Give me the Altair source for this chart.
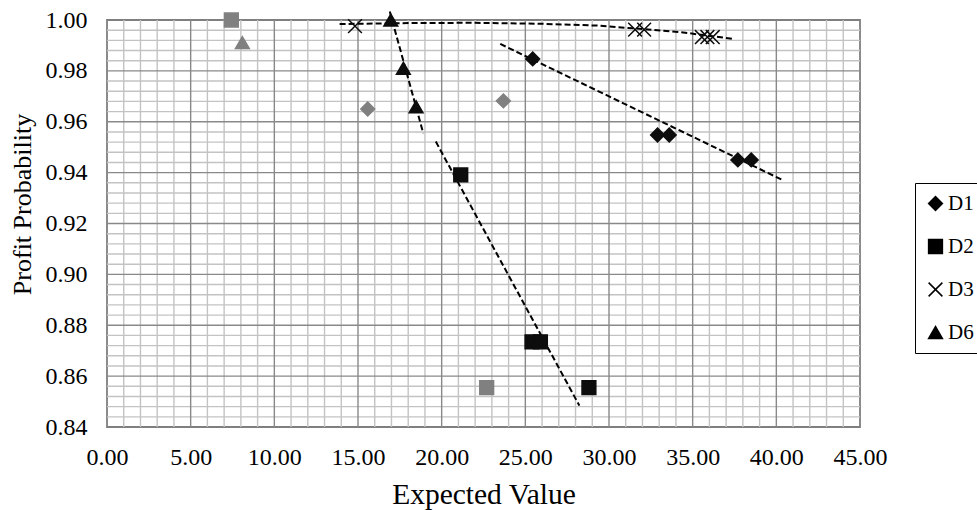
import altair as alt
import pandas as pd

# ---------------- data ----------------
series_names = ["D1", "D2", "D3", "D6"]

d1_x = [25.44, 32.9, 33.6, 37.7, 38.5]
d1_y = [0.9847, 0.9548, 0.9548, 0.945, 0.945]
d1_gray_x = [15.58, 23.69]
d1_gray_y = [0.965, 0.9682]

d2_x = [21.14, 25.4, 25.9, 28.8]
d2_y = [0.9391, 0.8735, 0.8735, 0.8555]
d2_gray_x = [7.43, 22.69]
d2_gray_y = [1.0, 0.8555]

d3_x = [14.82, 31.56, 32.1, 35.55, 35.88, 36.2]
d3_y = [0.9976, 0.9962, 0.9962, 0.9933, 0.9933, 0.9933]

d6_x = [16.96, 17.71, 18.47]
d6_y = [1.0, 0.981, 0.9659]
d6_gray_x = [8.09]
d6_gray_y = [0.9911]

# dashed trendlines
t1_x = [23.5, 40.4]
t1_y = [0.9906, 0.937]
t2_x = [19.65, 28.23]
t2_y = [0.9522, 0.8484]
t3_x = [13.9, 18.0, 22.0, 26.0, 29.3, 31.5, 34.2, 37.5]
t3_y = [0.9984, 0.9988, 0.9989, 0.9985, 0.9978, 0.9967, 0.9953, 0.9925]
t6_x = [16.9, 18.9]
t6_y = [1.0033, 0.9555]

x_ticks = [0, 5, 10, 15, 20, 25, 30, 35, 40, 45]
y_ticks = [0.84, 0.86, 0.88, 0.90, 0.92, 0.94, 0.96, 0.98, 1.00]

# gridline positions
x_major = x_ticks[1:-1]
x_minor = [i for i in range(1, 45) if i % 5 != 0]
y_major = y_ticks[1:-1]
y_minor = [round(0.84 + 0.004 * k, 3) for k in range(1, 40) if k % 5 != 0]

# ---------------- tables ----------------
rows = []
def add(name, tone, xs, ys):
    for a, b in zip(xs, ys):
        rows.append({"x": a, "y": b, "series": name, "tone": tone})

add("D1", "gray", d1_gray_x, d1_gray_y)
add("D2", "gray", d2_gray_x, d2_gray_y)
add("D6", "gray", d6_gray_x, d6_gray_y)
add("D1", "dark", d1_x, d1_y)
add("D2", "dark", d2_x, d2_y)
add("D3", "dark", d3_x, d3_y)
add("D6", "dark", d6_x, d6_y)
pts = pd.DataFrame(rows)

lrows = []
for name, xs, ys in [("D1", t1_x, t1_y), ("D2", t2_x, t2_y), ("D3", t3_x, t3_y), ("D6", t6_x, t6_y)]:
    for i, (a, b) in enumerate(zip(xs, ys)):
        lrows.append({"x": a, "y": b, "series": name, "i": i})
lines = pd.DataFrame(lrows)

FONT = "Liberation Serif"
xscale = alt.Scale(domain=[0, 45], nice=False, zero=False)
yscale = alt.Scale(domain=[0.84, 1.0], nice=False, zero=False)

xaxis = alt.Axis(values=x_ticks, format=".2f", title="Expected Value",
                 labelFontSize=24, labelPadding=18, tickSize=0,
                 labelFlush=False, labelOverlap=False,
                 titleFontSize=29.5, titleBaseline="alphabetic", titleY=76)
yaxis = alt.Axis(values=y_ticks, format=".2f", title="Profit Probability",
                 labelFontSize=24, labelPadding=20, tickSize=0,
                 labelFlush=False, labelOverlap=False,
                 titleFontSize=26, titleBaseline="alphabetic", titleAngle=-90,
                 titleX=-77, titleY=184, titleAlign="center")

def vrules(vals, color):
    return alt.Chart(pd.DataFrame({"v": vals})).mark_rule(color=color, strokeWidth=1.4).encode(
        x=alt.X("v:Q", scale=xscale, axis=xaxis))

def hrules(vals, color):
    return alt.Chart(pd.DataFrame({"v": vals})).mark_rule(color=color, strokeWidth=1.4).encode(
        y=alt.Y("v:Q", scale=yscale, axis=yaxis))

MINOR = "#c3c3c3"
MAJOR = "#898989"

trend = alt.Chart(lines).mark_line(color="black", strokeWidth=2, strokeDash=[6, 3]).encode(
    x=alt.X("x:Q", scale=xscale, axis=xaxis),
    y=alt.Y("y:Q", scale=yscale, axis=yaxis),
    detail="series:N",
    order="i:Q",
)

points = alt.Chart(pts).mark_point(filled=True, color="black", strokeWidth=1.5, size=190, opacity=1).encode(
    x=alt.X("x:Q", scale=xscale, axis=xaxis),
    y=alt.Y("y:Q", scale=yscale, axis=yaxis),
    shape=alt.Shape("series:N",
                    scale=alt.Scale(domain=series_names,
                                    range=["diamond", "square", "M-1,-1L1,1M1,-1L-1,1", "triangle-up"]),
                    legend=alt.Legend(title=None,
                                      orient="none", legendX=808, legendY=163,
                                      strokeColor="black", fillColor="white", padding=10,
                                      rowPadding=21, labelFont=FONT, labelFontSize=21,
                                      labelColor="black", labelOffset=2, symbolSize=190,
                                      symbolFillColor="black", symbolStrokeColor="black",
                                      symbolStrokeWidth=1.5)),
    fill=alt.Fill("tone:N", scale=alt.Scale(domain=["dark", "gray"], range=["#0d0d0d", "#808080"]), legend=None),
    stroke=alt.Stroke("tone:N", scale=alt.Scale(domain=["dark", "gray"], range=["#0d0d0d", "#808080"]), legend=None),
)

chart = alt.layer(
    vrules(x_minor, MINOR), hrules(y_minor, MINOR),
    vrules(x_major, MAJOR), hrules(y_major, MAJOR),
    trend, points,
).properties(
    width=753, height=407,
    autosize=alt.AutoSizeParams(type="none"),
    padding={"left": 107, "top": 20, "right": 117, "bottom": 83},
    background="white",
).configure_view(
    stroke="#7f7f7f", strokeWidth=1.8
).configure_axis(
    labelFont=FONT, titleFont=FONT, labelColor="black", titleColor="black",
    titleFontWeight="normal", grid=False, ticks=False, domain=False,
)

chart.save("out.html", embed_options={"renderer": "svg", "actions": False})
